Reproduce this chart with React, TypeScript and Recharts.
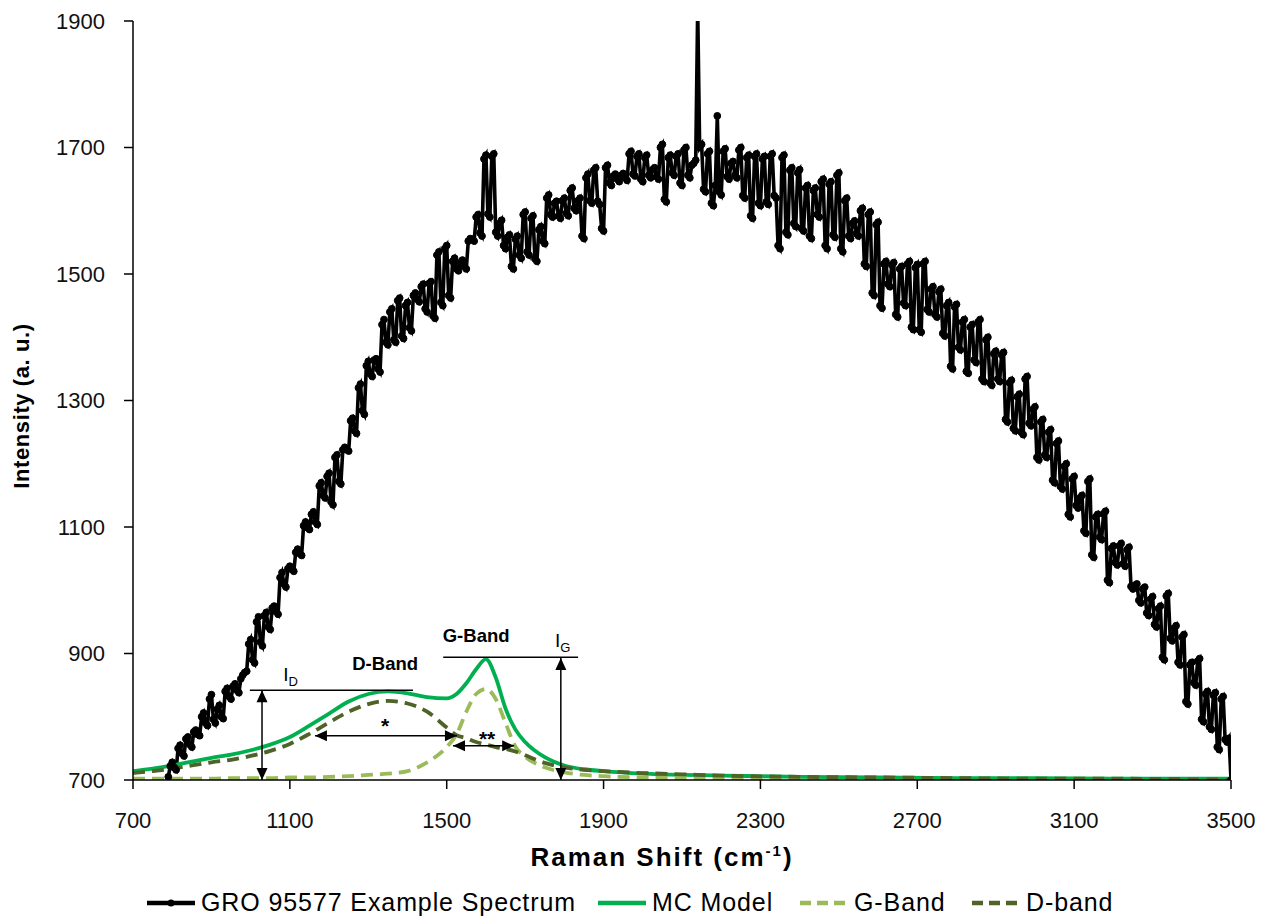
import React from "react";
import { LineChart, Line, XAxis, YAxis, ReferenceLine, ReferenceDot } from "recharts";

// Raman spectrum sampled every 5 cm-1 starting at 790 cm-1
const SHIFT_START = 790;
const SHIFT_STEP = 5;
const spectrumIntensity = [
  705, 722, 728, 720, 716, 750, 755, 742, 738, 765, 768, 756, 752, 776, 779, 772, 770, 800, 806, 790,
  786, 828, 835, 796, 790, 812, 818, 800, 797, 840, 845, 832, 828, 848, 852, 842, 838, 860, 866, 870,
  872, 915, 922, 890, 885, 950, 958, 918, 912, 960, 965, 942, 938, 972, 975, 966, 962, 1020, 1028, 1010,
  1005, 1034, 1038, 1033, 1030, 1060, 1065, 1058, 1055, 1102, 1108, 1099, 1096, 1120, 1124, 1108, 1104, 1165, 1170, 1150,
  1146, 1180, 1185, 1140, 1135, 1210, 1214, 1172, 1168, 1222, 1226, 1222, 1220, 1268, 1272, 1252, 1248, 1320, 1326, 1284,
  1278, 1355, 1362, 1342, 1338, 1364, 1366, 1350, 1345, 1420, 1428, 1392, 1388, 1440, 1445, 1396, 1392, 1458, 1462, 1402,
  1398, 1450, 1455, 1415, 1410, 1466, 1470, 1460, 1456, 1480, 1484, 1445, 1440, 1485, 1488, 1434, 1430, 1530, 1535, 1455,
  1450, 1540, 1545, 1466, 1462, 1520, 1525, 1508, 1505, 1518, 1522, 1512, 1508, 1552, 1556, 1555, 1552, 1590, 1594, 1565,
  1560, 1682, 1688, 1595, 1590, 1686, 1690, 1566, 1560, 1580, 1585, 1545, 1540, 1558, 1562, 1512, 1508, 1555, 1560, 1530,
  1525, 1594, 1598, 1535, 1530, 1588, 1592, 1524, 1520, 1570, 1575, 1552, 1548, 1620, 1625, 1594, 1590, 1612, 1615, 1592,
  1588, 1616, 1620, 1596, 1592, 1632, 1636, 1604, 1600, 1616, 1620, 1560, 1556, 1652, 1658, 1616, 1612, 1664, 1668, 1615,
  1610, 1572, 1568, 1668, 1672, 1644, 1640, 1655, 1658, 1650, 1646, 1656, 1659, 1652, 1648, 1690, 1694, 1658, 1655, 1686,
  1690, 1650, 1646, 1684, 1688, 1656, 1652, 1665, 1668, 1654, 1650, 1700, 1705, 1618, 1614, 1684, 1688, 1660, 1656, 1686,
  1690, 1644, 1640, 1696, 1700, 1656, 1652, 1672, 1675, 1680, 1920, 1700, 1705, 1634, 1630, 1690, 1694, 1612, 1608, 1640,
  1750, 1630, 1625, 1694, 1698, 1654, 1650, 1675, 1678, 1656, 1652, 1696, 1700, 1624, 1620, 1684, 1688, 1592, 1588, 1686,
  1690, 1612, 1608, 1682, 1686, 1614, 1610, 1686, 1690, 1624, 1620, 1545, 1540, 1684, 1688, 1566, 1562, 1664, 1668, 1580,
  1575, 1660, 1665, 1572, 1568, 1636, 1640, 1560, 1556, 1632, 1636, 1594, 1590, 1646, 1650, 1545, 1540, 1642, 1646, 1562,
  1558, 1656, 1660, 1540, 1535, 1616, 1620, 1560, 1556, 1580, 1584, 1564, 1560, 1600, 1604, 1516, 1512, 1594, 1598, 1470,
  1466, 1578, 1582, 1450, 1446, 1516, 1520, 1484, 1480, 1514, 1518, 1436, 1432, 1508, 1512, 1454, 1450, 1516, 1520, 1416,
  1412, 1510, 1515, 1412, 1408, 1516, 1520, 1444, 1440, 1476, 1480, 1436, 1432, 1472, 1476, 1406, 1402, 1450, 1455, 1354,
  1350, 1448, 1452, 1384, 1380, 1424, 1428, 1346, 1343, 1416, 1420, 1364, 1360, 1424, 1428, 1334, 1330, 1396, 1400, 1328,
  1324, 1374, 1378, 1334, 1330, 1372, 1376, 1270, 1266, 1328, 1332, 1256, 1252, 1306, 1310, 1250, 1246, 1334, 1338, 1264,
  1260, 1286, 1290, 1210, 1206, 1266, 1270, 1214, 1210, 1250, 1254, 1174, 1170, 1232, 1236, 1164, 1160, 1196, 1200, 1120,
  1116, 1176, 1180, 1134, 1130, 1146, 1150, 1094, 1090, 1172, 1176, 1056, 1052, 1116, 1120, 1084, 1080, 1121, 1125, 1016,
  1012, 1066, 1070, 1044, 1040, 1070, 1074, 1042, 1038, 1064, 1068, 1006, 1002, 1008, 1010, 984, 980, 1002, 1005, 964,
  960, 986, 990, 946, 942, 971, 975, 894, 890, 991, 995, 924, 920, 940, 944, 886, 882, 926, 930, 824,
  820, 882, 886, 854, 850, 888, 892, 796, 792, 836, 840, 784, 780, 834, 838, 752, 748, 828, 832, 764, 760, 766, 700,
];

// fitted model curves
const modelShift = [
  700, 750, 800, 850, 900, 950, 1000, 1050, 1100, 1150, 1200, 1250, 1300,
  1350, 1400, 1450, 1500, 1525, 1550, 1575, 1600, 1625, 1650, 1675, 1700,
  1750, 1800, 1850, 1900, 2000, 2100, 2200, 2400, 2600, 2800, 3000, 3200, 3500,
];
const mcModel = [
  714, 718, 723, 729, 735, 740, 747, 756, 768, 786, 805, 824, 836,
  840, 837, 831, 829, 836, 853, 875, 891, 862, 813, 780, 760,
  736, 723, 717, 714, 710, 708, 707, 705, 704, 703, 703, 702, 702,
];
const gBand = [
  702, 702, 702, 702, 702, 703, 703, 703, 704, 704, 705, 706, 708,
  710, 714, 728, 752, 772, 808, 836, 844, 828, 790, 753, 737,
  720, 712, 708, 706, 704, 703, 702, 702, 702, 701, 701, 701, 701,
];
const dBand = [
  711, 714, 718, 723, 728, 732, 738, 746, 757, 773, 791, 808, 820,
  825, 821, 808, 783, 771, 766, 760, 756, 752, 749, 745, 739,
  727, 720, 716, 714, 711, 709, 707, 705, 704, 703, 702, 702, 701,
];

const xTicks = [700, 1100, 1500, 1900, 2300, 2700, 3100, 3500];
const yTicks = [700, 900, 1100, 1300, 1500, 1700, 1900];

const FONT = "'Liberation Sans', Arial, Helvetica, sans-serif";
const SPECTRUM_COLOR = "#000000";
const MC_COLOR = "#00b050";
const G_COLOR = "#9bbb59";
const D_COLOR = "#4f6228";

const spectrumData = spectrumIntensity.map((v, i) => ({
  shift: SHIFT_START + i * SHIFT_STEP,
  intensity: v,
}));
const modelData = modelShift.map((s, i) => ({
  shift: s,
  mc: mcModel[i],
  g: gBand[i],
  d: dBand[i],
}));

// line with an arrowhead at each end
const DoubleArrow = (props: any) => {
  const { x1, y1, x2, y2 } = props;
  const len = Math.hypot(x2 - x1, y2 - y1) || 1;
  const ux = (x2 - x1) / len;
  const uy = (y2 - y1) / len;
  const head = 12;
  const half = 5.5;
  const tip = (tx: number, ty: number, dx: number, dy: number) =>
    `${tx},${ty} ${tx - dx * head - dy * half},${ty - dy * head + dx * half} ${tx - dx * head + dy * half},${ty - dy * head - dx * half}`;
  return (
    <g>
      <line x1={x1} y1={y1} x2={x2} y2={y2} stroke="#000" strokeWidth={1.5} />
      <polygon points={tip(x2, y2, ux, uy)} fill="#000" />
      <polygon points={tip(x1, y1, -ux, -uy)} fill="#000" />
    </g>
  );
};

const textAt = (content: React.ReactNode, opts: { size: number; bold?: boolean; anchor?: string }) =>
  (p: any) => (
    <text
      x={p.cx}
      y={p.cy}
      fontFamily={FONT}
      fontSize={opts.size}
      fontWeight={opts.bold ? 700 : 400}
      textAnchor={opts.anchor ?? "middle"}
      fill="#000"
    >
      {content}
    </text>
  );

const XTitle = () => (
  <text
    x={662}
    y={866}
    textAnchor="middle"
    fontFamily={FONT}
    fontSize={26}
    fontWeight={700}
    letterSpacing={2}
    fill="#000"
  >
    Raman Shift (cm
    <tspan dy={-10} fontSize={15}>-1</tspan>
    <tspan dy={10}>)</tspan>
  </text>
);

const YTitle = () => (
  <text
    x={0}
    y={0}
    transform="translate(29, 406) rotate(-90)"
    textAnchor="middle"
    fontFamily={FONT}
    fontSize={22}
    fontWeight={700}
    letterSpacing={0.6}
    fill="#000"
  >
    Intensity (a. u.)
  </text>
);

const legendItems = [
  { label: "GRO 95577 Example Spectrum", color: SPECTRUM_COLOR, dash: "", dot: true },
  { label: "MC Model", color: MC_COLOR, dash: "", dot: false },
  { label: "G-Band", color: G_COLOR, dash: "11 6", dot: false },
  { label: "D-band", color: D_COLOR, dash: "11 6", dot: false },
];
// left edge of each legend entry, in px
const legendLeft = [146, 597, 799, 971];

const ChartLegend = () => (
  <div style={{ position: "absolute", left: 0, top: 888, width: 1263, height: 30 }}>
    {legendItems.map((item, i) => (
      <div
        key={item.label}
        style={{
          position: "absolute",
          left: legendLeft[i],
          top: 0,
          display: "flex",
          alignItems: "center",
          gap: 5,
          fontFamily: FONT,
          fontSize: 25,
          letterSpacing: 0.9,
          color: "#000",
          whiteSpace: "nowrap",
        }}
      >
        <svg width={50} height={12}>
          <line x1={1} y1={6} x2={49} y2={6} stroke={item.color} strokeWidth={4.5} strokeDasharray={item.dash} />
          {item.dot && <circle cx={25} cy={6} r={3.5} fill={item.color} />}
        </svg>
        <span>{item.label}</span>
      </div>
    ))}
  </div>
);

export default function App() {
  return (
    <div style={{ position: "absolute", left: 0, top: 0, width: 1263, height: 917, background: "#fff" }}>
      <LineChart width={1263} height={917} margin={{ top: 21, right: 32, left: 0, bottom: 0 }}>
        <XAxis
          dataKey="shift"
          type="number"
          domain={[700, 3500]}
          ticks={xTicks}
          allowDataOverflow
          height={137}
          tickSize={9}
          tickMargin={23}
          axisLine={{ stroke: "#000", strokeWidth: 1.5 }}
          tickLine={{ stroke: "#000", strokeWidth: 1.5 }}
          tick={{ fill: "#111", fontSize: 22, fontFamily: FONT }}
          label={<XTitle />}
        />
        <YAxis
          type="number"
          domain={[700, 1900]}
          ticks={yTicks}
          allowDataOverflow
          width={133}
          tickSize={9}
          tickMargin={19}
          axisLine={{ stroke: "#000", strokeWidth: 1.5 }}
          tickLine={{ stroke: "#000", strokeWidth: 1.5 }}
          tick={{ fill: "#111", fontSize: 22, fontFamily: FONT }}
          label={<YTitle />}
        />
        <Line
          data={spectrumData}
          dataKey="intensity"
          type="linear"
          stroke={SPECTRUM_COLOR}
          strokeWidth={3.6}
          dot={{ r: 3.4, fill: SPECTRUM_COLOR, stroke: SPECTRUM_COLOR, strokeWidth: 1 }}
          isAnimationActive={false}
        />
        <Line
          data={modelData}
          dataKey="mc"
          type="monotone"
          stroke={MC_COLOR}
          strokeWidth={3.8}
          dot={false}
          isAnimationActive={false}
        />
        <Line
          data={modelData}
          dataKey="g"
          type="monotone"
          stroke={G_COLOR}
          strokeWidth={3.8}
          strokeDasharray="12 7"
          dot={false}
          isAnimationActive={false}
        />
        <Line
          data={modelData}
          dataKey="d"
          type="monotone"
          stroke={D_COLOR}
          strokeWidth={3.8}
          strokeDasharray="12 7"
          dot={false}
          isAnimationActive={false}
        />

        {/* I_D and I_G guide lines */}
        <ReferenceLine segment={[{ x: 998, y: 842 }, { x: 1414, y: 842 }]} stroke="#000" strokeWidth={1.5} />
        <ReferenceLine segment={[{ x: 1029, y: 842 }, { x: 1029, y: 700 }]} shape={DoubleArrow} />
        <ReferenceLine segment={[{ x: 1491, y: 894 }, { x: 1835, y: 894 }]} stroke="#000" strokeWidth={1.5} />
        <ReferenceLine segment={[{ x: 1791, y: 893 }, { x: 1791, y: 700 }]} shape={DoubleArrow} />
        {/* band widths */}
        <ReferenceLine segment={[{ x: 1164, y: 770 }, { x: 1526, y: 770 }]} shape={DoubleArrow} />
        <ReferenceLine segment={[{ x: 1516, y: 754 }, { x: 1672, y: 754 }]} shape={DoubleArrow} />

        <ReferenceDot x={1343} y={874} shape={textAt("D-Band", { size: 18.5, bold: true })} />
        <ReferenceDot x={1575} y={918} shape={textAt("G-Band", { size: 18.5, bold: true })} />
        <ReferenceDot x={1343} y={775} shape={textAt("*", { size: 21, bold: true })} />
        <ReferenceDot x={1603} y={753} shape={textAt("**", { size: 21, bold: true })} />
        <ReferenceDot
          x={1083}
          y={857}
          shape={textAt(
            <>
              I<tspan fontSize={13} dy={5}>D</tspan>
            </>,
            { size: 19, anchor: "start" }
          )}
        />
        <ReferenceDot
          x={1776}
          y={910}
          shape={textAt(
            <>
              I<tspan fontSize={13} dy={5}>G</tspan>
            </>,
            { size: 19, anchor: "start" }
          )}
        />
      </LineChart>
      <ChartLegend />
    </div>
  );
}
